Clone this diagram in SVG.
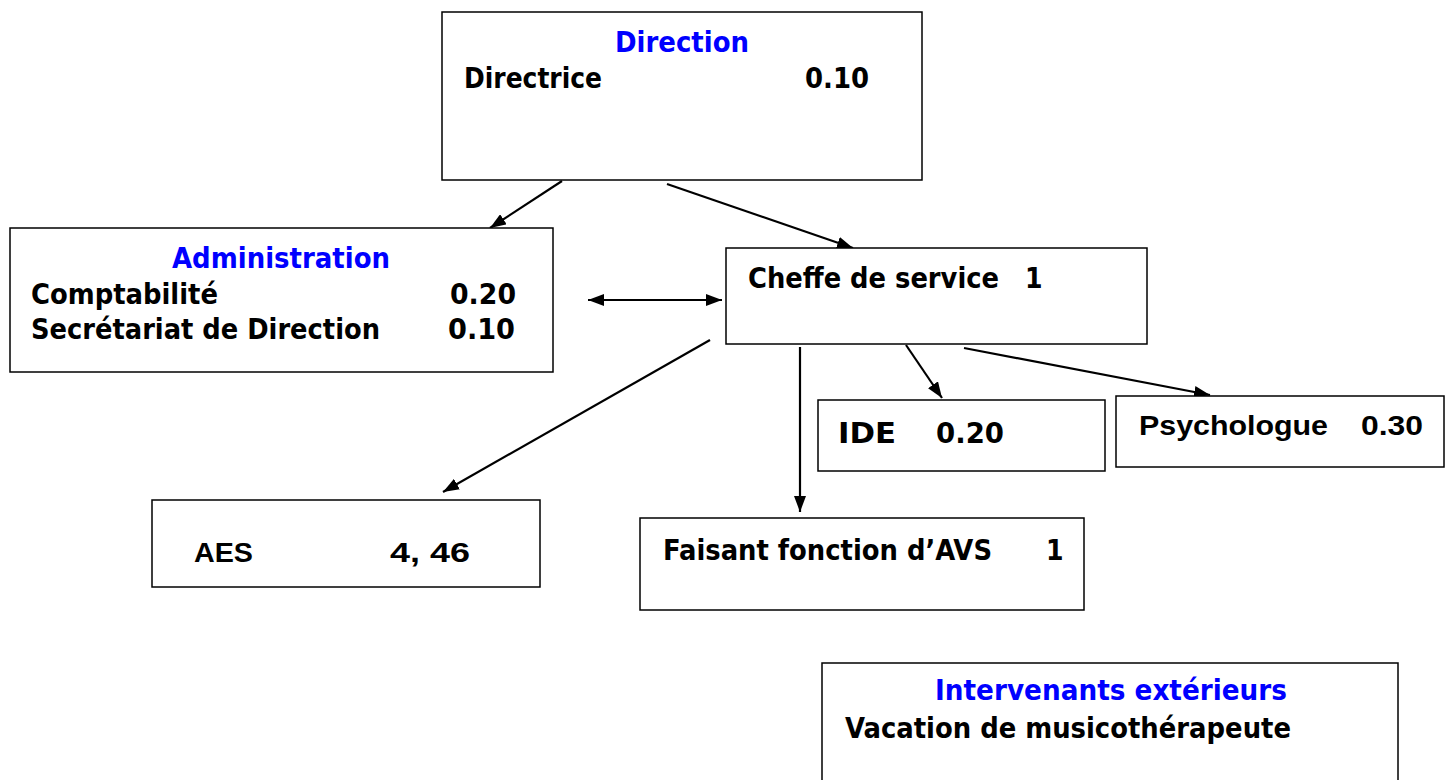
<svg xmlns="http://www.w3.org/2000/svg" width="1446" height="780" viewBox="0 0 1446 780">
  <style>
    .box { fill: #ffffff; stroke: #000000; stroke-width: 1.5; }
    .t { font-family: "DejaVu Sans Condensed", "DejaVu Sans", sans-serif; font-weight: bold; font-size: 28px; fill: #000000; }
    .a { font-family: "Liberation Sans", Arial, sans-serif; font-weight: bold; font-size: 28px; fill: #000000; }
    .head { fill: #0000ff; }
    .link { stroke: #000000; stroke-width: 2.2; fill: none; }
  </style>
  <defs>
    <marker id="arrow" viewBox="0 0 16 12" refX="16" refY="6" markerWidth="16" markerHeight="12" markerUnits="userSpaceOnUse" orient="auto-start-reverse">
      <path d="M0,0 L16,6 L0,12 Z" fill="#000000"/>
    </marker>
  </defs>
  <rect width="1446" height="780" fill="#ffffff"/>

  <!-- connectors -->
  <g id="connectors">
    <line class="link" x1="562" y1="181" x2="490" y2="228" marker-end="url(#arrow)"/>
    <line class="link" x1="667" y1="184" x2="853" y2="248" marker-end="url(#arrow)"/>
    <line class="link" x1="588" y1="300" x2="722" y2="300" marker-start="url(#arrow)" marker-end="url(#arrow)"/>
    <line class="link" x1="710" y1="340" x2="443" y2="492" marker-end="url(#arrow)"/>
    <line class="link" x1="800" y1="347" x2="800" y2="512" marker-end="url(#arrow)"/>
    <line class="link" x1="906" y1="345" x2="942" y2="398" marker-end="url(#arrow)"/>
    <line class="link" x1="964" y1="348" x2="1210" y2="395" marker-end="url(#arrow)"/>
  </g>

  <g id="direction">
    <rect class="box" x="442" y="12" width="480" height="168"/>
    <text class="t head" x="615" y="52" textLength="134" lengthAdjust="spacingAndGlyphs">Direction</text>
    <text class="t" x="464" y="88" textLength="138" lengthAdjust="spacingAndGlyphs">Directrice</text>
    <text class="t" x="805" y="88" textLength="64" lengthAdjust="spacingAndGlyphs">0.10</text>
  </g>

  <g id="administration">
    <rect class="box" x="10" y="228" width="543" height="144"/>
    <text class="t head" x="172" y="268" textLength="218" lengthAdjust="spacingAndGlyphs">Administration</text>
    <text class="t" x="31" y="304" textLength="187" lengthAdjust="spacingAndGlyphs">Comptabilité</text>
    <text class="t" x="450" y="304" textLength="66" lengthAdjust="spacingAndGlyphs">0.20</text>
    <text class="t" x="31" y="339" textLength="349" lengthAdjust="spacingAndGlyphs">Secrétariat de Direction</text>
    <text class="t" x="448" y="339" textLength="67" lengthAdjust="spacingAndGlyphs">0.10</text>
  </g>

  <g id="cheffe">
    <rect class="box" x="726" y="248" width="421" height="96"/>
    <text class="t" x="748" y="288" textLength="251" lengthAdjust="spacingAndGlyphs">Cheffe de service</text>
    <text class="t" x="1025" y="288">1</text>
  </g>

  <g id="ide">
    <rect class="box" x="818" y="400" width="287" height="71"/>
    <text class="t" x="838" y="443" font-size="31" textLength="58" lengthAdjust="spacingAndGlyphs">IDE</text>
    <text class="t" x="936" y="443" font-size="31" textLength="68" lengthAdjust="spacingAndGlyphs">0.20</text>
  </g>

  <g id="psychologue">
    <rect class="box" x="1116" y="396" width="328" height="71"/>
    <text class="a" x="1139" y="435" textLength="189" lengthAdjust="spacingAndGlyphs">Psychologue</text>
    <text class="a" x="1361" y="435" textLength="62" lengthAdjust="spacingAndGlyphs">0.30</text>
  </g>

  <g id="aes">
    <rect class="box" x="152" y="500" width="388" height="87"/>
    <text class="a" x="194" y="562" textLength="59" lengthAdjust="spacingAndGlyphs">AES</text>
    <text class="a" x="390" y="562" textLength="80" lengthAdjust="spacingAndGlyphs">4, 46</text>
  </g>

  <g id="faisant-fonction">
    <rect class="box" x="640" y="518" width="444" height="92"/>
    <text class="t" x="663" y="560" textLength="329" lengthAdjust="spacingAndGlyphs">Faisant fonction d’AVS</text>
    <text class="t" x="1046" y="560">1</text>
  </g>

  <g id="intervenants">
    <rect class="box" x="822" y="663" width="576" height="130"/>
    <text class="t head" x="935" y="700" textLength="352" lengthAdjust="spacingAndGlyphs">Intervenants extérieurs</text>
    <text class="t" x="845" y="738" textLength="446" lengthAdjust="spacingAndGlyphs">Vacation de musicothérapeute</text>
  </g>
</svg>
